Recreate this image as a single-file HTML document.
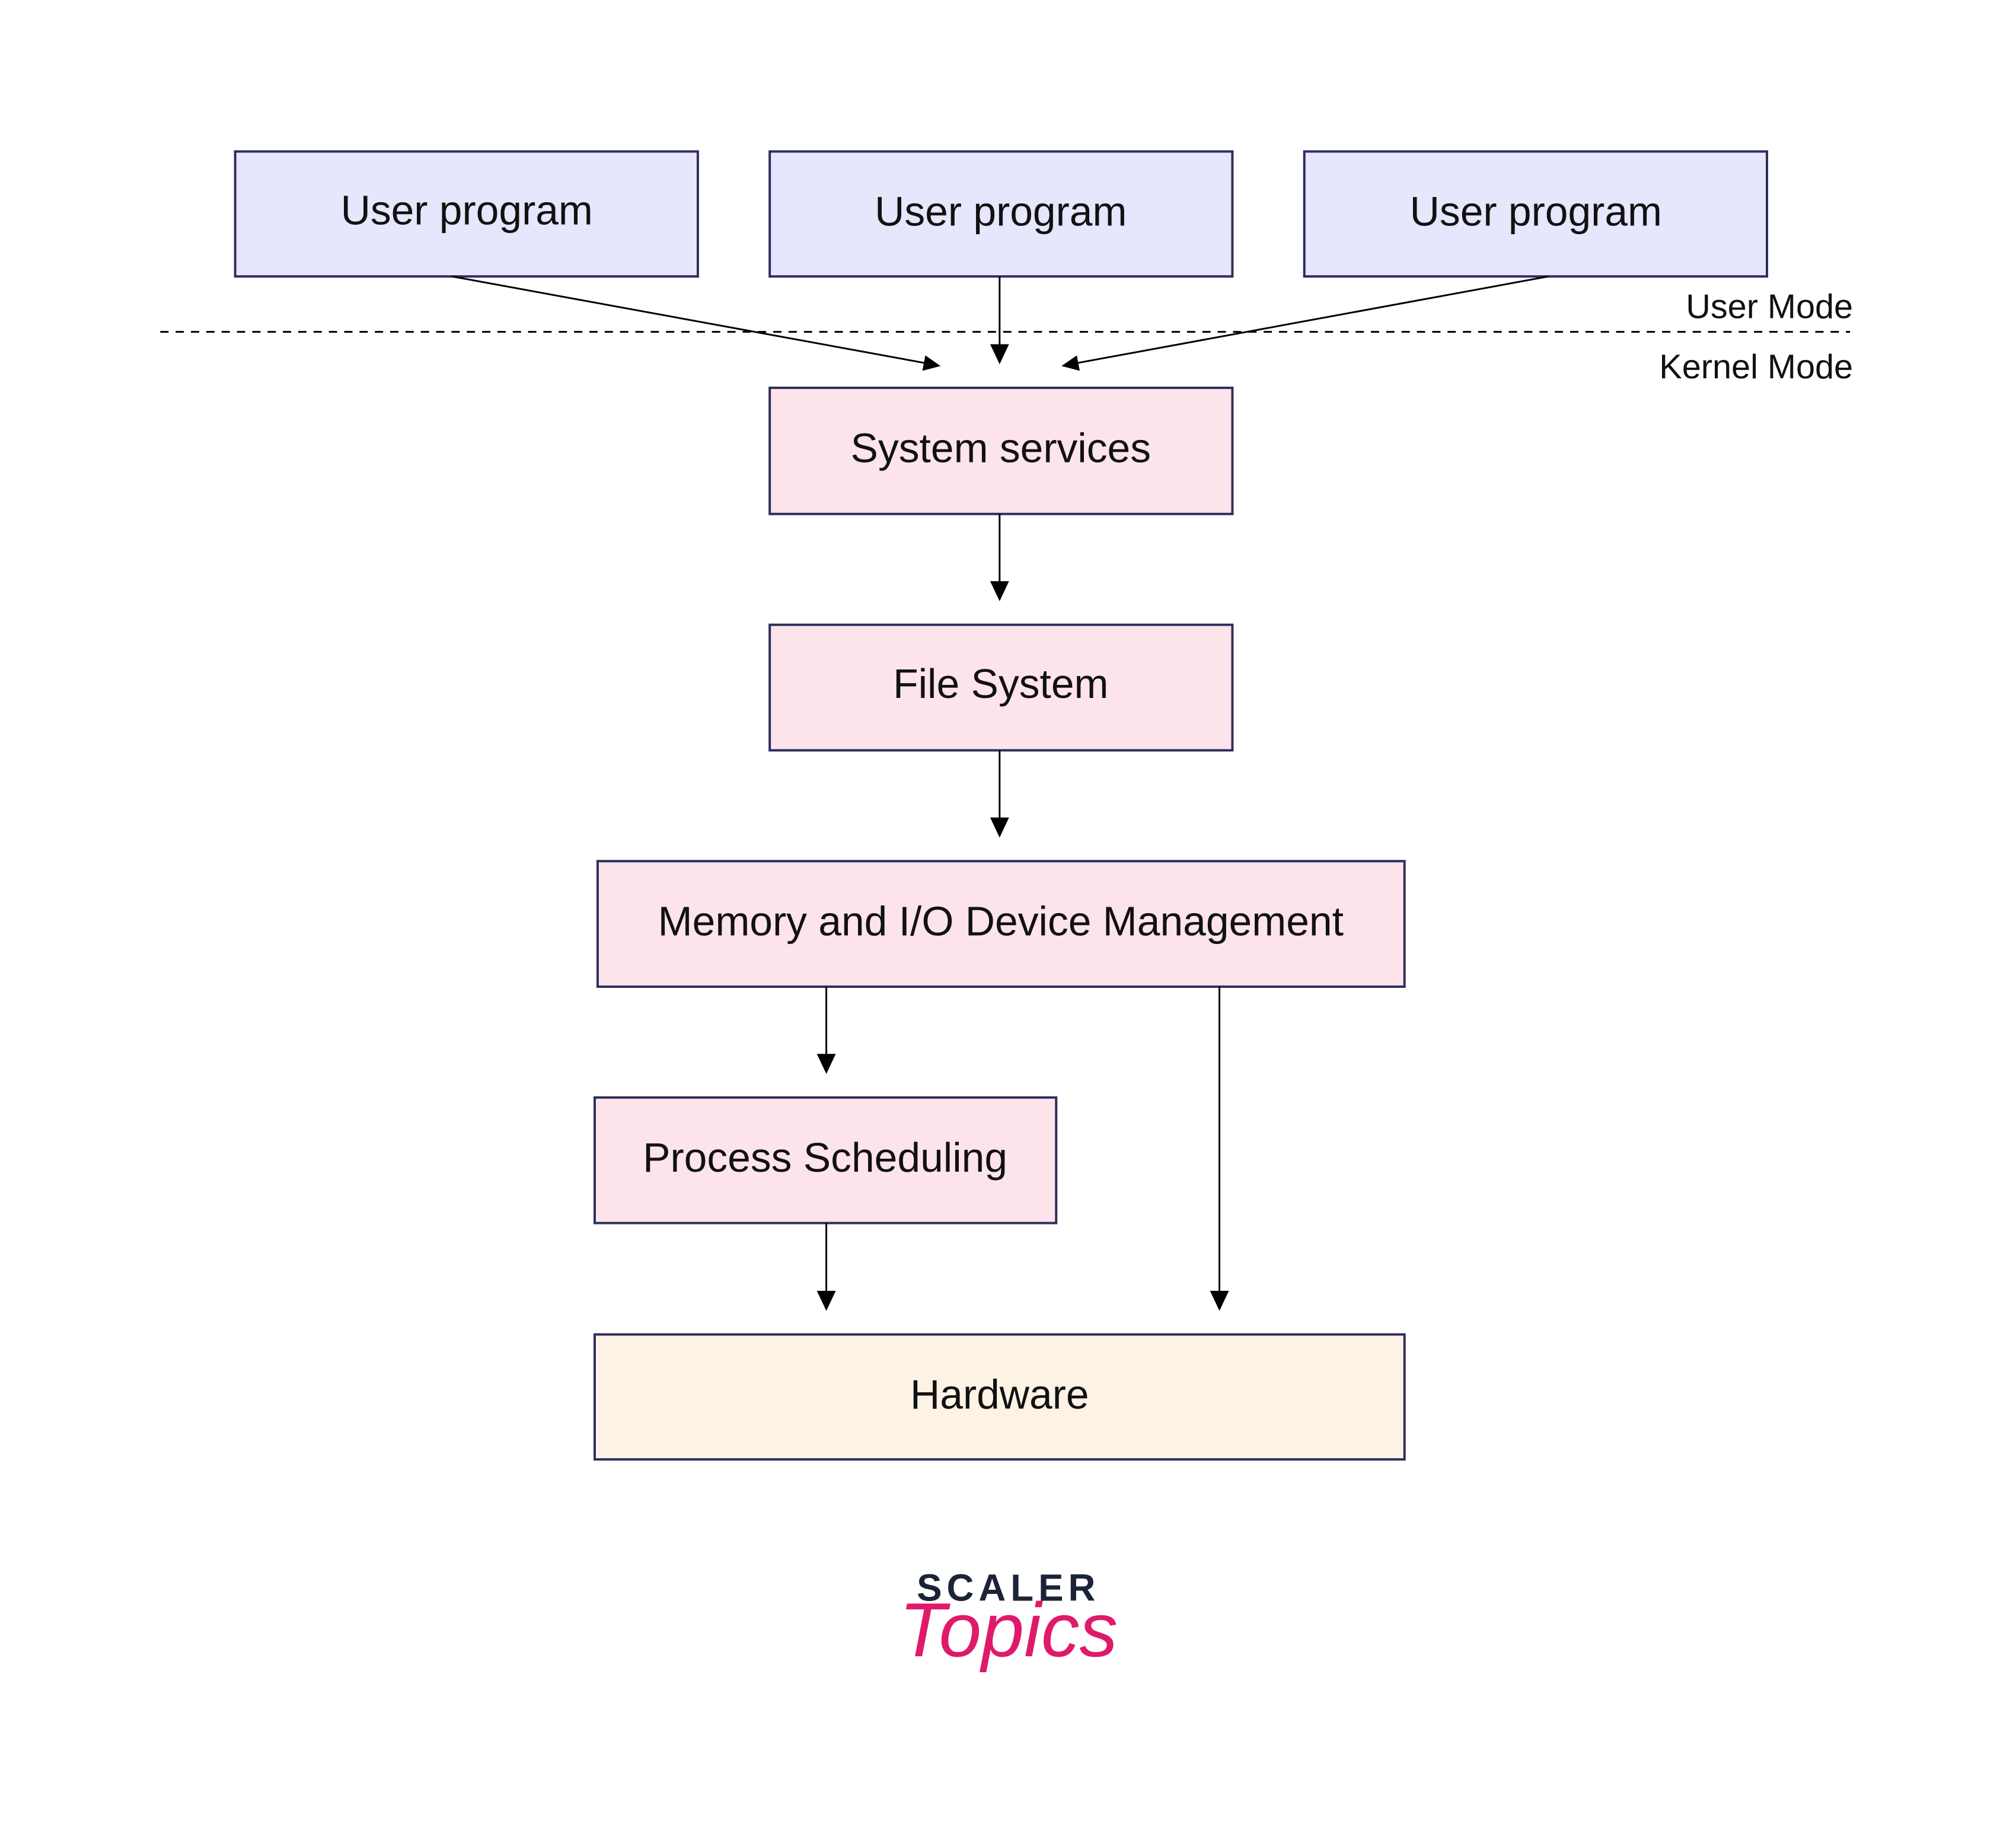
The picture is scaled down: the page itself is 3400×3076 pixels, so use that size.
<!DOCTYPE html>
<html><head><meta charset="utf-8"><style>
html,body{margin:0;padding:0;background:#fff;}
svg{display:block}
text{font-family:"Liberation Sans",sans-serif;}
</style></head><body>
<svg width="3400" height="3076" viewBox="0 0 3400 3076" xmlns="http://www.w3.org/2000/svg">
<rect width="3400" height="3076" fill="#fff"/>
<g transform="scale(0.994)">
<g stroke="#2e2d5e" stroke-width="4">
<rect x="399" y="257" width="785" height="212" fill="#e6e6fc"/>
<rect x="1306" y="257" width="785" height="212" fill="#e6e6fc"/>
<rect x="2213" y="257" width="785" height="212" fill="#e6e6fc"/>
<rect x="1306" y="658" width="785" height="214" fill="#fde4ea"/>
<rect x="1306" y="1060" width="785" height="213" fill="#fde4ea"/>
<rect x="1014" y="1461" width="1369" height="213" fill="#fde4ea"/>
<rect x="1009" y="1862" width="783" height="213" fill="#fde4ea"/>
<rect x="1009" y="2264" width="1374" height="212" fill="#fdf3e5"/>
</g>
<line x1="272" y1="563" x2="3139" y2="563" stroke="#000" stroke-width="3" stroke-dasharray="14,12"/>
<g stroke="#000" stroke-width="3" fill="none">
<line x1="767" y1="469" x2="1570" y2="616"/>
<line x1="1696" y1="469" x2="1696" y2="590"/>
<line x1="2627" y1="469" x2="1827" y2="616"/>
<line x1="1696" y1="872" x2="1696" y2="992"/>
<line x1="1696" y1="1273" x2="1696" y2="1393"/>
<line x1="1402" y1="1674" x2="1402" y2="1795"/>
<line x1="1402" y1="2075" x2="1402" y2="2196"/>
<line x1="2069" y1="1674" x2="2069" y2="2196"/>
</g>
<g fill="#000">
<polygon points="1596,621 1565,629 1570,603"/>
<polygon points="1696,618 1680,584 1712,584"/>
<polygon points="1801,621 1827,603 1832,629"/>
<polygon points="1696,1020 1680,986 1712,986"/>
<polygon points="1696,1421 1680,1387 1712,1387"/>
<polygon points="1402,1822 1386,1788 1418,1788"/>
<polygon points="1402,2224 1386,2190 1418,2190"/>
<polygon points="2069,2224 2053,2190 2085,2190"/>
</g>
<g font-size="70" fill="#111" text-anchor="middle">
<text x="792" y="381">User program</text>
<text x="1698" y="383">User program</text>
<text x="2606" y="383">User program</text>
<text x="1698" y="784">System services</text>
<text x="1698" y="1184">File System</text>
<text x="1698" y="1587">Memory and I/O Device Management</text>
<text x="1400" y="1988">Process Scheduling</text>
<text x="1696" y="2390">Hardware</text>
</g>
<g font-size="58" fill="#111" text-anchor="end">
<text x="3144" y="540">User Mode</text>
<text x="3144" y="642">Kernel Mode</text>
</g>
<text x="1711" y="2716" font-size="64" font-weight="bold" fill="#1b2437" text-anchor="middle" letter-spacing="8">SCALER</text>
<text x="1711" y="2810" font-family="Liberation Serif,serif" font-style="italic" font-size="130" fill="#e01a6b" text-anchor="middle">Topics</text>
</g>
</svg>
</body></html>
